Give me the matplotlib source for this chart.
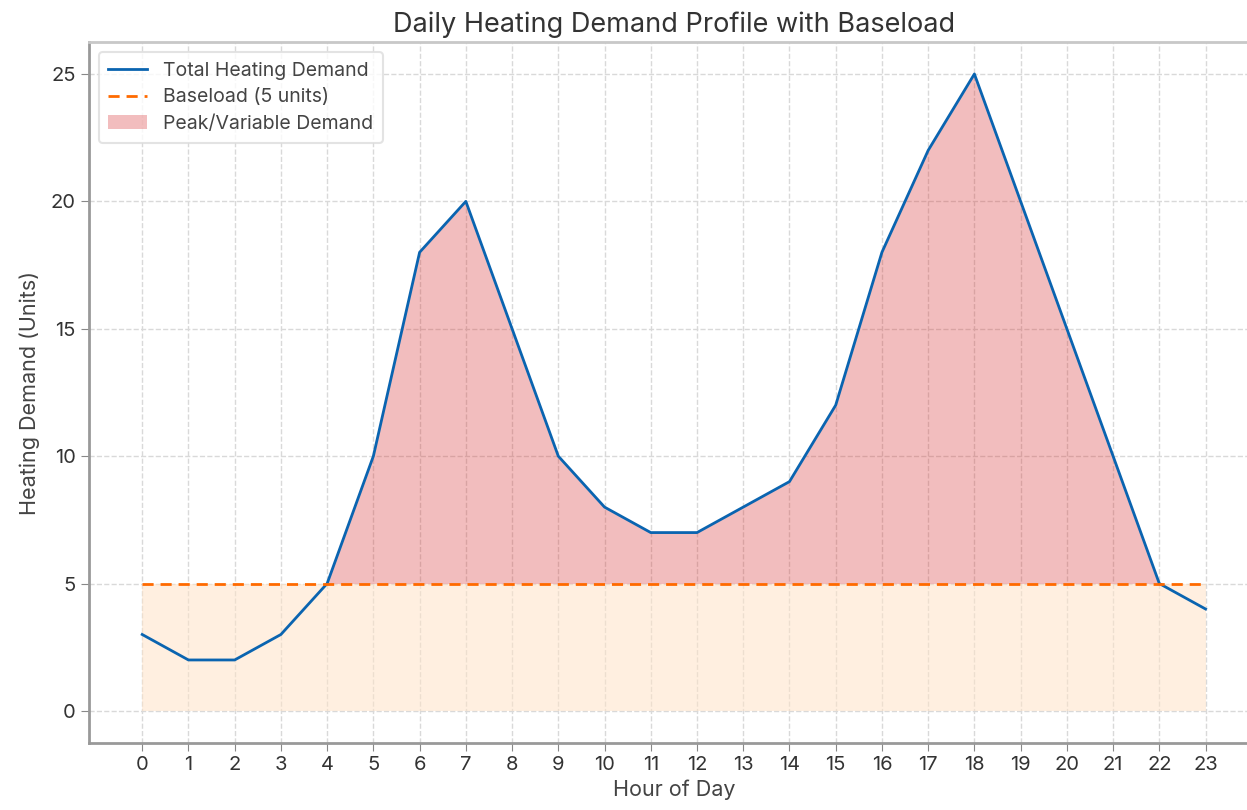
import numpy as np
import matplotlib
matplotlib.use("Agg")
import matplotlib.pyplot as plt

plt.rcParams["font.family"] = ["Inter", "DejaVu Sans"]

hours = list(range(24))
demand = [3, 2, 2, 3, 5, 10, 18, 20, 15, 10, 8, 7, 7, 8, 9, 12, 18, 22, 25, 20, 15, 10, 5, 4]
baseload = 5

h = np.array(hours)
d = np.array(demand)

fig = plt.figure(figsize=(12.47, 8.10), dpi=100)
ax = fig.add_axes([0.0714, 0.083, 0.938, 0.865])

# baseload band and peak area
ax.fill_between(h, 0, baseload, color="#ffe3c8", alpha=0.55, linewidth=0)
ax.fill_between(h, baseload, d, where=d >= baseload, interpolate=True,
                color="#d62728", alpha=0.3, linewidth=0,
                label="Peak/Variable Demand")
ax.plot(h, d, color="#0a64b0", linewidth=2.0, label="Total Heating Demand")
ax.plot(h, [baseload] * len(hours), color="#ff6a00", linestyle="--",
        linewidth=2.0, dashes=(4, 2.5), label="Baseload (5 units)")

ax.set_xlim(-1.15, 24.15)
ax.set_ylim(-1.25, 26.25)
ax.set_xticks(hours)
ax.set_yticks([0, 5, 10, 15, 20, 25])
ax.grid(True, linestyle="--", color="#d9d9d9", linewidth=1.0)
ax.set_axisbelow(True)

for side in ("left", "bottom"):
    ax.spines[side].set_color("#999999")
    ax.spines[side].set_linewidth(2.0)
ax.spines["top"].set_color("#c8c8c8")
ax.spines["top"].set_linewidth(2.0)
ax.spines["right"].set_visible(False)
ax.tick_params(colors="#888888", labelcolor="#333333", labelsize=14.5, length=6)

ax.set_title("Daily Heating Demand Profile with Baseload", fontsize=19.5,
             color="#333333", pad=7)
ax.set_xlabel("Hour of Day", fontsize=15.5, color="#444444", labelpad=4)
ax.set_ylabel("Heating Demand (Units)", fontsize=15.5, color="#444444", labelpad=8)

handles, labels = ax.get_legend_handles_labels()
order = [1, 2, 0]
leg = ax.legend([handles[i] for i in order], [labels[i] for i in order],
                loc="upper left", fontsize=14, frameon=True,
                edgecolor="#dddddd", borderpad=0.5, handlelength=2.0,
                labelspacing=0.45)
leg.get_frame().set_linewidth(1.5)
for t in leg.get_texts():
    t.set_color("#444444")

fig.savefig("out.png", dpi=100)
